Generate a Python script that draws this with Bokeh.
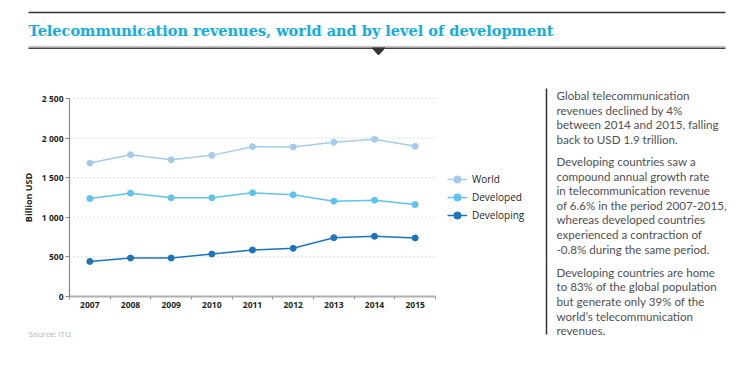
from bokeh.plotting import figure
from bokeh.models import (Range1d, FixedTicker, Legend, LegendItem, LinearAxis, ColumnDataSource)
from bokeh.core.properties import value
from bokeh.embed import file_html
from bokeh.resources import INLINE

# ---- data ----
years = [2007, 2008, 2009, 2010, 2011, 2012, 2013, 2014, 2015]
world = [1685, 1790, 1727, 1782, 1892, 1888, 1947, 1985, 1896]
developed = [1237, 1305, 1246, 1246, 1309, 1284, 1204, 1216, 1161]
developing = [443, 486, 486, 536, 587, 608, 743, 760, 739]
series_names = ["World", "Developed", "Developing"]
y_ticks = [0, 500, 1000, 1500, 2000, 2500]
y_tick_labels = ["0", "500", "1 000", "1 500", "2 000", "2 500"]

title_text = "Telecommunication revenues, world and by level of development"
y_label = "Billion USD"
source_text = "Source: ITU."
paragraphs = [
    ["Global telecommunication",
     "revenues declined by 4%",
     "between 2014 and 2015, falling",
     "back to USD 1.9 trillion."],
    ["Developing countries saw a",
     "compound annual growth rate",
     "in telecommunication revenue",
     "of 6.6% in the period 2007-2015,",
     "whereas developed countries",
     "experienced a contraction of",
     "-0.8% during the same period."],
    ["Developing countries are home",
     "to 83% of the global population",
     "but generate only 39% of the",
     "world\u2019s telecommunication",
     "revenues."],
]

colors = ["#A3CCEC", "#5EC3EE", "#1C74BA"]
TITLE_COLOR = "#12ACE6"
DARK = "#231F20"

# ---- layout geometry (pixels) ----
W, H = 732, 352
FX0, FX1, FY0, FY1 = 69, 435, 98, 296      # chart box
X_LO, X_HI = years[0] - 0.5, years[-1] + 0.5
Y_LO, Y_HI = y_ticks[0], y_ticks[-1]
kx = (FX1 - FX0) / (X_HI - X_LO)
ky = (FY1 - FY0) / (Y_HI - Y_LO)
x_rng = Range1d(X_LO - FX0 / kx, X_LO + (W - FX0) / kx)
y_rng = Range1d(Y_LO - (H - FY1) / ky, Y_LO + FY1 / ky)

p = figure(width=W, height=H, x_range=x_rng, y_range=y_rng,
           x_axis_location=None, y_axis_location=None, toolbar_location=None,
           output_backend="svg", min_border=0, outline_line_color=None)
p.grid.visible = False
p.extra_x_ranges = {"px": Range1d(0, W)}
p.extra_y_ranges = {"px": Range1d(H, 0)}
PX = dict(x_range_name="px", y_range_name="px")

# ---- header ----
p.segment(x0=[28], y0=[12], x1=[725], y1=[12], line_color="#333333", line_width=1.5, **PX)
p.segment(x0=[28], y0=[46], x1=[725], y1=[46], line_color="#cccccc", line_width=1.5, **PX)
p.segment(x0=[28], y0=[47.8], x1=[725], y1=[47.8], line_color="#444444", line_width=1.5, **PX)
p.patch(x=[371.5, 384.5, 378], y=[47.5, 47.5, 54.5], fill_color="#333333",
        line_color="#333333", **PX)
p.text(x=[28], y=[30], text=[title_text], text_font=value("DejaVu Serif"),
       text_font_style="bold", text_font_size=value("14.5px"), text_color=TITLE_COLOR,
       text_baseline="middle", **PX)

# ---- chart ----
grid_vals = [t for t in y_ticks if t > Y_LO]
p.segment(x0=[X_LO] * len(grid_vals), y0=grid_vals, x1=[X_HI] * len(grid_vals), y1=grid_vals,
          line_color="#bbbbbb", line_dash="1 3", line_width=1)

xaxis = LinearAxis(fixed_location=Y_LO, bounds=(X_LO, X_HI),
                   ticker=FixedTicker(ticks=years, minor_ticks=[y - 0.5 for y in years] + [X_HI]))
xaxis.major_tick_out = 0
xaxis.major_tick_in = 0
xaxis.minor_tick_out = 3
xaxis.minor_tick_in = 0
xaxis.minor_tick_line_color = "#999999"
xaxis.axis_line_color = "#b0b0b0"
xaxis.axis_line_width = 2
xaxis.major_label_standoff = 2
xaxis.major_label_text_font = "Open Sans"
xaxis.major_label_text_font_style = "bold"
xaxis.major_label_text_font_size = "8.5px"
xaxis.major_label_text_color = DARK
p.add_layout(xaxis, "below")

yaxis = LinearAxis(fixed_location=X_LO, bounds=(Y_LO, Y_HI), ticker=FixedTicker(ticks=y_ticks))
yaxis.major_label_overrides = {t: l for t, l in zip(y_ticks, y_tick_labels)}
yaxis.major_tick_out = 4
yaxis.major_tick_in = 0
yaxis.minor_tick_out = 0
yaxis.minor_tick_in = 0
yaxis.major_tick_line_color = "#888888"
yaxis.axis_line_color = "#888888"
yaxis.axis_line_width = 1.2
yaxis.major_label_standoff = 2
yaxis.major_label_text_font = "Open Sans"
yaxis.major_label_text_font_style = "bold"
yaxis.major_label_text_font_size = "8.5px"
yaxis.major_label_text_color = DARK
yaxis.axis_label = y_label
yaxis.axis_label_text_font = "Open Sans"
yaxis.axis_label_text_font_style = "bold"
yaxis.axis_label_text_font_size = "9px"
yaxis.axis_label_text_color = DARK
yaxis.axis_label_standoff = 4
p.add_layout(yaxis, "left")

items = []
for name, vals, col in zip(series_names, [world, developed, developing], colors):
    src = ColumnDataSource(dict(x=years, y=vals))
    l = p.line("x", "y", source=src, line_color=col, line_width=1.5)
    s = p.scatter("x", "y", source=src, size=6, fill_color=col, line_color=col)
    items.append(LegendItem(label=name, renderers=[l, s]))

legend = Legend(items=items, location=(447, H - 224), padding=0, margin=0, spacing=0,
                glyph_width=20, glyph_height=18, label_height=18, label_standoff=5,
                label_text_font="Open Sans", label_text_font_size="10px",
                label_text_color=DARK, border_line_color=None, background_fill_alpha=0)
p.add_layout(legend, "center")

p.text(x=[28], y=[333], text=[source_text], text_font=value("Open Sans"),
       text_font_size=value("8px"), text_color="#b0b0b0", text_baseline="middle", **PX)

# ---- side text ----
p.segment(x0=[546], y0=[88], x1=[546], y1=[334], line_color="#333333", line_width=1.5, **PX)
line_step = 14.6
para_starts = [95, 161, 271.7]
xs, ys, ts = [], [], []
for start, para in zip(para_starts, paragraphs):
    for i, t in enumerate(para):
        xs.append(556)
        ys.append(start + i * line_step)
        ts.append(t)
p.text(x=xs, y=ys, text=ts, text_font=value("Lato"), text_font_size=value("11.6px"),
       text_color="#4F5052", text_baseline="middle", **PX)

open("out.html", "w").write(file_html(p, INLINE))
